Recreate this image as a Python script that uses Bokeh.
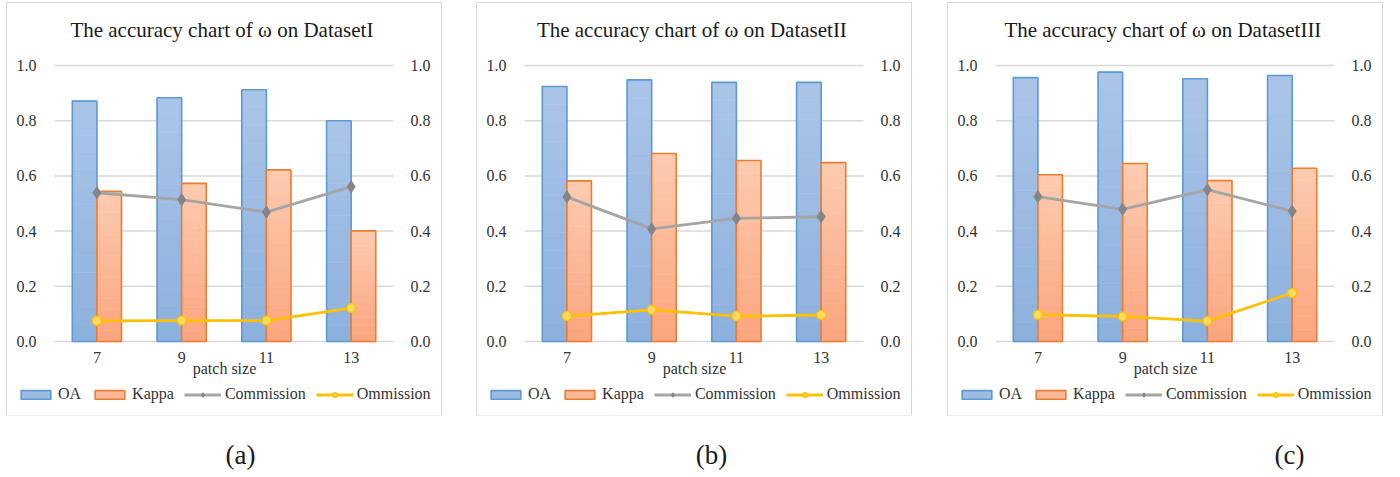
import numpy as np
from bokeh.plotting import figure
from bokeh.models import (Range1d, LinearAxis, FixedTicker, NumeralTickFormatter,
                          ColumnDataSource, Legend, LegendItem, Label, Spacer)
from bokeh.transform import dodge
from bokeh.layouts import row, column
from bokeh.embed import file_html
from bokeh.resources import INLINE

# ---------------- data ----------------
patch_sizes = ["7", "9", "11", "13"]
titles = ["The accuracy  chart of ω on DatasetI",
          "The accuracy  chart of ω on DatasetII",
          "The accuracy  chart of ω on DatasetIII"]
captions = ["(a)", "(b)", "(c)"]

oa_1 = [0.871, 0.883, 0.912, 0.800]
kappa_1 = [0.544, 0.573, 0.622, 0.401]
commission_1 = [0.539, 0.514, 0.469, 0.561]
ommission_1 = [0.075, 0.076, 0.076, 0.121]

oa_2 = [0.924, 0.948, 0.939, 0.939]
kappa_2 = [0.582, 0.681, 0.656, 0.648]
commission_2 = [0.524, 0.408, 0.446, 0.452]
ommission_2 = [0.092, 0.115, 0.092, 0.096]

oa_3 = [0.956, 0.976, 0.952, 0.964]
kappa_3 = [0.604, 0.645, 0.583, 0.628]
commission_3 = [0.525, 0.479, 0.550, 0.472]
ommission_3 = [0.097, 0.091, 0.074, 0.176]

y_ticks = [0.0, 0.2, 0.4, 0.6, 0.8, 1.0]

FONT = "Liberation Serif"
OA_LINE, OA_TOP, OA_BOT = "#5b9bd5", (171, 197, 232), (140, 176, 221)
KA_LINE, KA_TOP, KA_BOT = "#ed7d31", (253, 203, 176), (250, 165, 126)
COM_LINE, COM_MARK = "#a5a5a5", "#858585"
OM_LINE, OM_FILL = "#ffc000", "#ffd966"
NSEG = 14

x_idx = list(range(len(patch_sizes)))
x_lo, x_hi = -0.5, len(patch_sizes) - 0.5


def lerp(c0, c1, t):
    return "#%02x%02x%02x" % tuple(int(round(a + (b - a) * t)) for a, b in zip(c0, c1))


def gradient_source(values, bot_c, top_c):
    xs, bots, tops, cols = [], [], [], []
    mid = NSEG // 2
    order = [mid] + [k for k in range(NSEG) if k != mid]
    for k in order:
        for i, v in zip(x_idx, values):
            xs.append(i)
            bots.append(v * k / NSEG)
            tops.append(v * (k + 1) / NSEG)
            cols.append(lerp(bot_c, top_c, (k + 0.5) / NSEG))
    return ColumnDataSource(dict(x=xs, bottom=bots, top=tops, color=cols))


def make_panel(title, oa, kappa, com, om):
    p = figure(width=434, height=412,
               x_range=Range1d(-1.0313, 4.0424), y_range=Range1d(-0.2572, 1.0689),
               output_backend="svg", toolbar_location=None,
               min_border_left=2, min_border_right=2, min_border_top=43, min_border_bottom=3,
               outline_line_color=None, background_fill_color="white")
    p.styles = {"outline": "1.5px solid #d9d9d9"}

    p.title.text = title
    p.title.text_font = FONT
    p.title.text_font_size = "21px"
    p.title.text_font_style = "normal"
    p.title.text_color = "#1a1a1a"
    p.title.align = "center"

    # horizontal gridlines, spanning the category area only
    p.segment(x0=x_lo, x1=x_hi, y0=y_ticks, y1=y_ticks, line_color="#d9d9d9", line_width=1.5)

    w = 0.29
    s_oa = gradient_source(oa, OA_BOT, OA_TOP)
    r_oa = p.vbar(x=dodge("x", -w / 2), bottom="bottom", top="top", width=w,
                  source=s_oa, fill_color="color", line_color="color", line_width=0.6)
    src_oa = ColumnDataSource(dict(x=x_idx, top=oa))
    r_oa_o = p.vbar(x=dodge("x", -w / 2), top="top", bottom=0, width=w,
                    source=src_oa, fill_color=None, line_color=OA_LINE, line_width=1.6)
    s_ka = gradient_source(kappa, KA_BOT, KA_TOP)
    r_ka = p.vbar(x=dodge("x", w / 2), bottom="bottom", top="top", width=w,
                  source=s_ka, fill_color="color", line_color="color", line_width=0.6)
    src_ka = ColumnDataSource(dict(x=x_idx, top=kappa))
    r_ka_o = p.vbar(x=dodge("x", w / 2), top="top", bottom=0, width=w,
                    source=src_ka, fill_color=None, line_color=KA_LINE, line_width=1.6)

    src_l = ColumnDataSource(dict(x=x_idx, com=com, om=om))
    r_com = p.line("x", "com", source=src_l, line_color=COM_LINE, line_width=2.8)
    r_com_m = p.scatter("x", "com", source=src_l, marker="diamond", size=12,
                        fill_color=COM_MARK, line_color=COM_MARK)
    r_om = p.line("x", "om", source=src_l, line_color=OM_LINE, line_width=2.8)
    r_om_m = p.scatter("x", "om", source=src_l, marker="circle", size=9,
                       fill_color=OM_FILL, line_color=OM_LINE, line_width=1.5)

    # y axes, pinned to the edges of the category area
    left = p.yaxis[0]
    left.fixed_location = x_lo
    right = LinearAxis(fixed_location=x_hi)
    p.add_layout(right, "right")
    for ax in (left, right):
        ax.ticker = FixedTicker(ticks=y_ticks)
        ax.formatter = NumeralTickFormatter(format="0.0")
        ax.axis_line_color = None
        ax.major_tick_line_color = None
        ax.minor_tick_line_color = None
        ax.major_tick_out = 0
        ax.major_tick_in = 0
        ax.major_label_text_font = FONT
        ax.major_label_text_font_size = "16px"
        ax.major_label_text_color = "#333333"
    left.major_label_standoff = 18
    right.major_label_standoff = 17

    # x axis pinned at y = 0
    xa = p.xaxis[0]
    xa.fixed_location = 0
    xa.ticker = FixedTicker(ticks=x_idx)
    xa.major_label_overrides = {i: s for i, s in zip(x_idx, patch_sizes)}
    xa.axis_line_color = None
    xa.major_tick_line_color = None
    xa.minor_tick_line_color = None
    xa.major_tick_out = 0
    xa.major_tick_in = 0
    xa.major_label_standoff = 10
    xa.major_label_text_font = FONT
    xa.major_label_text_font_size = "16px"
    xa.major_label_text_color = "#333333"
    xa.axis_label = "patch size"
    xa.axis_label_text_font = FONT
    xa.axis_label_text_font_size = "16px"
    xa.axis_label_text_font_style = "normal"
    xa.axis_label_text_color = "#333333"
    xa.axis_label_standoff = -6

    p.xgrid.grid_line_color = None
    p.ygrid.grid_line_color = None

    legend = Legend(items=[
        LegendItem(label="OA", renderers=[r_oa, r_oa_o], index=1),
        LegendItem(label="Kappa", renderers=[r_ka, r_ka_o], index=1),
        LegendItem(label="Commission", renderers=[r_com, r_com_m]),
        LegendItem(label="Ommission", renderers=[r_om, r_om_m]),
    ], orientation="horizontal", location=(8, 9))
    legend.glyph_width = 37
    legend.glyph_height = 11
    legend.label_standoff = 4
    legend.spacing = 10
    legend.padding = 0
    legend.margin = 0
    legend.label_height = 18
    legend.label_text_font = FONT
    legend.label_text_font_size = "16px"
    legend.label_text_color = "#333333"
    legend.border_line_color = None
    legend.background_fill_alpha = 0
    p.add_layout(legend)
    return p


pa = make_panel(titles[0], oa_1, kappa_1, commission_1, ommission_1)
pb = make_panel(titles[1], oa_2, kappa_2, commission_2, ommission_2)
pc = make_panel(titles[2], oa_3, kappa_3, commission_3, ommission_3)

cap = figure(width=1390, height=58, x_range=Range1d(0, 1390), y_range=Range1d(0, 58),
             x_axis_type=None, y_axis_type=None, min_border=0, toolbar_location=None,
             output_backend="svg", outline_line_color=None)
cap.grid.visible = False
for txt, xpos in zip(captions, [240, 711, 1289]):
    cap.add_layout(Label(x=xpos, y=19, text=txt, text_font=FONT, text_font_size="27px",
                         text_align="center", text_baseline="middle", text_color="#1a1a1a"))

layout = column(
    Spacer(width=10, height=3),
    row(Spacer(width=7, height=10), pa, Spacer(width=36, height=10), pb,
        Spacer(width=37, height=10), pc),
    cap,
)
open("out.html", "w").write(file_html(layout, INLINE))
